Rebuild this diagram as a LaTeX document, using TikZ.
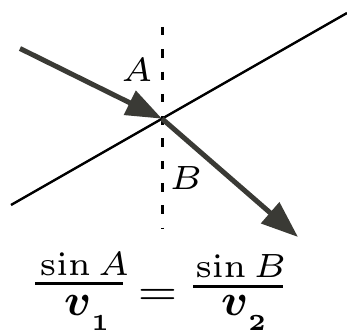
\RequirePackage{fix-cm}
\documentclass[tikz,border=0pt]{standalone}
\usepackage{amsmath,bm}
\usetikzlibrary{arrows.meta}
\definecolor{raycol}{RGB}{58,58,53}
\newcommand{\bigsix}[2]{\scalebox{#1}{\fontsize{6}{7}\selectfont #2}}
\begin{document}
\begin{tikzpicture}[x=1pt,y=-1pt,
  raystyle/.style={draw=raycol,line width=5pt},
  lab/.style={inner sep=0pt},
  eqtext/.style={inner sep=0pt,anchor=base},
  dentext/.style={inner sep=0pt,anchor=base west},
  fracbar/.style={line width=3pt}]
\useasboundingbox (0,0) rectangle (347,336);
\coordinate (L) at (11,205);
\coordinate (R) at (347,13);
\coordinate (O) at (162,118.7);
\coordinate (S) at (20,48.5);
\coordinate (E) at (298,237);
\coordinate (Dt) at (162,27);
\coordinate (Db) at (162,229);
\draw[line width=2.4pt] (L) -- (R);
\draw[line width=3pt,dash pattern=on 8.5pt off 13.8pt] (Dt) -- (Db);
\draw[raystyle,-{Triangle[length=36pt,width=26pt]}] (S) -- (O);
\draw[raystyle,-{Triangle[length=37pt,width=27pt]}] (O) -- (E);
\node[lab] (A) at (137,70) {\bigsix{5.6}{$A$}};
\node[lab] (B) at (186,178) {\bigsix{5.6}{$B$}};
% left fraction
\node[eqtext] (nA) at (84.5,275) {\bigsix{5.6}{$\sin A$}};
\coordinate (b1l) at (35,283.5);
\coordinate (b1r) at (123,283.5);
\draw[fracbar] (b1l) -- (b1r);
\node[dentext] (d1) at (64,315) {{\fontsize{45}{50}\selectfont$\bm{v}$}\raisebox{-15pt}{\scalebox{4.6}{\fontsize{5}{6}\selectfont$\mathbf{1}$}}};
% equals
\node[eqtext] (eq) at (157.5,303) {\scalebox{7.2}[6]{\fontsize{6}{7}\selectfont$=$}};
% right fraction
\node[eqtext] (nB) at (241,277) {\bigsix{5.6}{$\sin B$}};
\coordinate (b2l) at (193,286.5);
\coordinate (b2r) at (283,286.5);
\draw[fracbar] (b2l) -- (b2r);
\node[dentext] (d2) at (221,315) {{\fontsize{45}{50}\selectfont$\bm{v}$}\raisebox{-15pt}{\scalebox{4.6}{\fontsize{5}{6}\selectfont$\mathbf{2}$}}};
\end{tikzpicture}
\end{document}
